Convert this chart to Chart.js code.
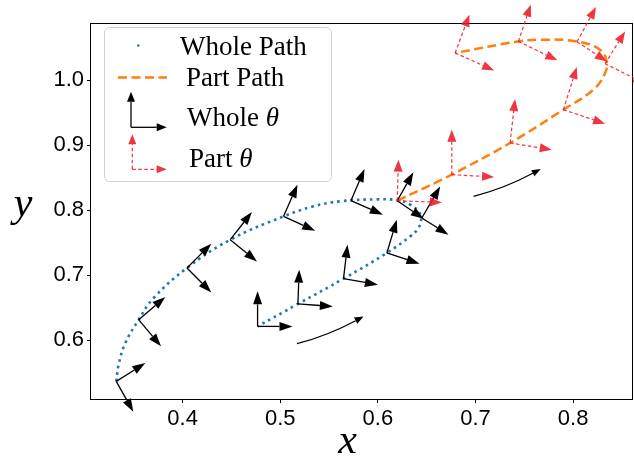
<!DOCTYPE html>
<html><head><meta charset="utf-8">
<script src="https://cdn.jsdelivr.net/npm/chart.js@4/dist/chart.umd.min.js"></script>
<style>html,body{margin:0;padding:0;background:#fff;overflow:hidden}#wrap{width:634px;height:457px}</style>
</head><body><div id="wrap"><canvas id="c" width="634" height="457"></canvas></div>
<script>
// ---- axis ----
const xTickValues = [0.4, 0.5, 0.6, 0.7, 0.8];
const yTickValues = [0.6, 0.7, 0.8, 0.9, 1.0];
const xLimits = [0.3062, 0.8613];
const yLimits = [0.5098, 1.0883];

// ---- paths ----
const wholePathX = [0.3321,0.3345,0.3414,0.3550,0.3703,0.4045,0.4488,0.5034,0.5338,0.5614,0.6000,0.6198,0.6331,0.6416,0.6443,0.6416,0.6331,0.6092,0.5648,0.5181,0.4768];
const wholePathY = [0.5369,0.5626,0.5960,0.6318,0.6652,0.7114,0.7549,0.7908,0.8062,0.8140,0.8170,0.8155,0.8088,0.7985,0.7872,0.7729,0.7600,0.7345,0.6949,0.6560,0.6215];
const partPathX = [0.6198,0.6655,0.6757,0.7354,0.7900,0.8207,0.8327,0.8344,0.8275,0.8037,0.7661,0.7439,0.6791];
const partPathY = [0.8149,0.8472,0.8549,0.9037,0.9549,0.9857,1.0114,1.0292,1.0472,1.0600,1.0626,1.0600,1.0422];

// ---- whole theta frames (origin, first axis tip, second axis tip) ----
const wholeFrameOrigin = [[0.3321,0.5369],[0.3550,0.6318],[0.4045,0.7114],[0.4488,0.7549],[0.5034,0.7908],[0.5724,0.8149],[0.6198,0.8149],[0.6450,0.7883],[0.6092,0.7345],[0.5648,0.6949],[0.5181,0.6560],[0.4768,0.6215]];
const wholeFrameTipA  = [[0.3618,0.5652],[0.3823,0.6668],[0.4294,0.7488],[0.4710,0.7975],[0.5177,0.8395],[0.5863,0.8637],[0.6364,0.8585],[0.6638,0.8369],[0.6194,0.7857],[0.5689,0.7472],[0.5194,0.7088],[0.4768,0.6754]];
const wholeFrameTipB  = [[0.3495,0.4903],[0.3779,0.5908],[0.4294,0.6738],[0.4762,0.7215],[0.5358,0.7688],[0.6051,0.7934],[0.6470,0.7870],[0.6723,0.7626],[0.6426,0.7180],[0.6000,0.6857],[0.5539,0.6523],[0.5126,0.6215]];

// ---- part theta frames ----
const partFrameOrigin = [[0.6198,0.8149],[0.6757,0.8549],[0.7354,0.9037],[0.7900,0.9549],[0.8327,1.0257],[0.8040,1.0595],[0.7439,1.0600],[0.6791,1.0422]];
const partFrameTipUp  = [[0.6211,0.8780],[0.6757,0.9242],[0.7405,0.9714],[0.8037,1.0206],[0.8532,1.0754],[0.8234,1.1129],[0.7566,1.1165],[0.6938,1.1011]];
const partFrameTipSide= [[0.6655,0.8123],[0.7190,0.8514],[0.7781,0.8934],[0.8327,0.9334],[0.8736,0.9949],[0.8344,1.0292],[0.7838,1.0308],[0.7190,1.0154]];

// ---- direction arrows ----
const dirArrowStart = [[0.5171,0.5949],[0.6980,0.8215]];
const dirArrowEnd   = [[0.5853,0.6369],[0.7668,0.8637]];

const legendLabels = ['Whole Path', 'Part Path', 'Whole ', 'Part '];
const thetaSymbol = 'θ';
const xTitle = 'x', yTitle = 'y';

const BLUE = '#1f77b4', ORANGE = '#ff7f0e', RED = 'rgba(238,25,40,0.88)';

function arrow(ctx, x0, y0, x1, y1, color, dash, headLen, headW, lw) {
  const a = Math.atan2(y1 - y0, x1 - x0);
  const bx = x1 - headLen * Math.cos(a), by = y1 - headLen * Math.sin(a);
  ctx.save();
  ctx.strokeStyle = color; ctx.fillStyle = color; ctx.lineWidth = lw;
  ctx.setLineDash(dash || []);
  ctx.beginPath(); ctx.moveTo(x0, y0); ctx.lineTo(bx, by); ctx.stroke();
  ctx.setLineDash([]);
  ctx.beginPath(); ctx.moveTo(x1, y1);
  ctx.lineTo(bx + headW / 2 * Math.sin(a), by - headW / 2 * Math.cos(a));
  ctx.lineTo(bx - headW / 2 * Math.sin(a), by + headW / 2 * Math.cos(a));
  ctx.closePath(); ctx.fill();
  ctx.restore();
}

function curvedArrow(ctx, x0, y0, x1, y1, bend, color, headLen, headW, lw) {
  const mx = (x0 + x1) / 2, my = (y0 + y1) / 2;
  const dx = x1 - x0, dy = y1 - y0, L = Math.hypot(dx, dy);
  const cx = mx + bend * (dy / L), cy = my + bend * (dx / L);
  const a = Math.atan2(y1 - cy, x1 - cx);
  const bx = x1 - headLen * Math.cos(a), by = y1 - headLen * Math.sin(a);
  ctx.save();
  ctx.strokeStyle = color; ctx.fillStyle = color; ctx.lineWidth = lw;
  ctx.beginPath(); ctx.moveTo(x0, y0); ctx.quadraticCurveTo(cx, cy, bx, by); ctx.stroke();
  ctx.beginPath(); ctx.moveTo(x1, y1);
  ctx.lineTo(bx + headW / 2 * Math.sin(a), by - headW / 2 * Math.cos(a));
  ctx.lineTo(bx - headW / 2 * Math.sin(a), by + headW / 2 * Math.cos(a));
  ctx.closePath(); ctx.fill();
  ctx.restore();
}

const overlay = {
  id: 'overlay',
  afterDraw(chart) {
    const ctx = chart.ctx, xs = chart.scales.x, ys = chart.scales.y, ca = chart.chartArea;
    const P = p => [xs.getPixelForValue(p[0]), ys.getPixelForValue(p[1])];
    ctx.save();
    ctx.strokeStyle = '#000'; ctx.lineWidth = 1;
    ctx.strokeRect(Math.round(ca.left) - 0.5, Math.round(ca.top) + 0.5, Math.round(ca.right - ca.left), Math.round(ca.bottom - ca.top));
    ctx.restore();
    wholeFrameOrigin.forEach((o, i) => {
      const [ox, oy] = P(o), [ax, ay] = P(wholeFrameTipA[i]), [bx, by] = P(wholeFrameTipB[i]);
      arrow(ctx, ox, oy, ax, ay, '#000', null, 13, 9, 1.3);
      arrow(ctx, ox, oy, bx, by, '#000', null, 13, 9, 1.3);
    });
    partFrameOrigin.forEach((o, i) => {
      const [ox, oy] = P(o), [ax, ay] = P(partFrameTipUp[i]), [bx, by] = P(partFrameTipSide[i]);
      arrow(ctx, ox, oy, ax, ay, RED, [3.5, 2.5], 12, 9, 1.2);
      arrow(ctx, ox, oy, bx, by, RED, [3.5, 2.5], 12, 9, 1.2);
    });
    dirArrowStart.forEach((s, i) => {
      const [x0, y0] = P(s), [x1, y1] = P(dirArrowEnd[i]);
      curvedArrow(ctx, x0, y0, x1, y1, 6, '#000', 9, 7, 1.2);
    });
    // legend
    ctx.save();
    const lx = 104.5, ly = 27.5, lw = 227, lh = 154, r = 5;
    ctx.beginPath();
    ctx.moveTo(lx + r, ly); ctx.lineTo(lx + lw - r, ly); ctx.arcTo(lx + lw, ly, lx + lw, ly + r, r);
    ctx.lineTo(lx + lw, ly + lh - r); ctx.arcTo(lx + lw, ly + lh, lx + lw - r, ly + lh, r);
    ctx.lineTo(lx + r, ly + lh); ctx.arcTo(lx, ly + lh, lx, ly + lh - r, r);
    ctx.lineTo(lx, ly + r); ctx.arcTo(lx, ly, lx + r, ly, r); ctx.closePath();
    ctx.fillStyle = 'rgba(255,255,255,0.85)'; ctx.fill();
    ctx.strokeStyle = '#d0d0d0'; ctx.lineWidth = 1; ctx.stroke();
    ctx.fillStyle = BLUE; ctx.beginPath(); ctx.arc(138.3, 45.5, 1.3, 0, Math.PI * 2); ctx.fill();
    ctx.strokeStyle = ORANGE; ctx.lineWidth = 2.5; ctx.setLineDash([9, 4.5]);
    ctx.beginPath(); ctx.moveTo(118, 77.5); ctx.lineTo(167, 77.5); ctx.stroke(); ctx.setLineDash([]);
    arrow(ctx, 131, 127.3, 131, 91.7, '#000', null, 10, 8, 1.3);
    arrow(ctx, 131, 127.3, 166.7, 127.3, '#000', null, 10, 8, 1.3);
    arrow(ctx, 132.3, 169.3, 132.3, 134.3, RED, [3.5, 2.5], 10, 8, 1.2);
    arrow(ctx, 132.3, 169.3, 166.7, 169.3, RED, [3.5, 2.5], 10, 8, 1.2);
    ctx.fillStyle = '#000'; ctx.textBaseline = 'alphabetic'; ctx.textAlign = 'left';
    const serif = '27px "Liberation Serif"', serifIt = 'italic 27px "Liberation Serif"';
    ctx.font = serif;
    ctx.fillText(legendLabels[0], 180, 55);
    ctx.fillText(legendLabels[1], 186, 86);
    ctx.fillText(legendLabels[2], 187, 126);
    let w = ctx.measureText(legendLabels[2]).width;
    ctx.font = serifIt; ctx.fillText(thetaSymbol, 187 + w, 126);
    ctx.font = serif; ctx.fillText(legendLabels[3], 189, 166.5);
    w = ctx.measureText(legendLabels[3]).width;
    ctx.font = serifIt; ctx.fillText(thetaSymbol, 189 + w, 166.5);
    ctx.font = 'italic 42px "Liberation Serif"'; ctx.textAlign = 'center';
    ctx.fillText(xTitle, 347.5, 453);
    ctx.fillText(yTitle, 23, 216);
    ctx.restore();
  }
};

const toPts = (xa, ya) => xa.map((x, i) => ({ x, y: ya[i] }));
const tickFont = { family: '"Liberation Sans"', size: 22 };

new Chart(document.getElementById('c').getContext('2d'), {
  type: 'scatter',
  data: {
    datasets: [
      { label: 'Whole Path', data: toPts(wholePathX, wholePathY), showLine: true, borderColor: BLUE, borderWidth: 2.6, borderDash: [2.6, 4], tension: 0.4, pointRadius: 0, fill: false },
      { label: 'Part Path', data: toPts(partPathX, partPathY), showLine: true, borderColor: ORANGE, borderWidth: 2.5, borderDash: [9, 4.5], tension: 0.4, pointRadius: 0, fill: false }
    ]
  },
  options: {
    responsive: false, animation: false, devicePixelRatio: 1,
    layout: { padding: { top: 23, right: 1, left: 0, bottom: 0 } },
    plugins: { legend: { display: false }, tooltip: { enabled: false } },
    scales: {
      x: {
        type: 'linear', min: xLimits[0], max: xLimits[1],
        afterBuildTicks: s => { s.ticks = xTickValues.map(v => ({ value: v })); },
        afterFit: s => { s.height = 58; },
        grid: { drawOnChartArea: false, tickLength: 4, color: '#000' },
        border: { display: false },
        ticks: { font: tickFont, color: '#000', padding: 3, autoSkip: false, maxRotation: 0, callback: v => Number(v).toFixed(1) }
      },
      y: {
        type: 'linear', min: yLimits[0], max: yLimits[1],
        afterBuildTicks: s => { s.ticks = yTickValues.map(v => ({ value: v })); },
        afterFit: s => { s.width = 91; },
        grid: { drawOnChartArea: false, tickLength: 4, color: '#000' },
        border: { display: false },
        ticks: { font: tickFont, color: '#000', padding: 3, autoSkip: false, callback: v => Number(v).toFixed(1) }
      }
    }
  },
  plugins: [overlay]
});
</script>
</body></html>
